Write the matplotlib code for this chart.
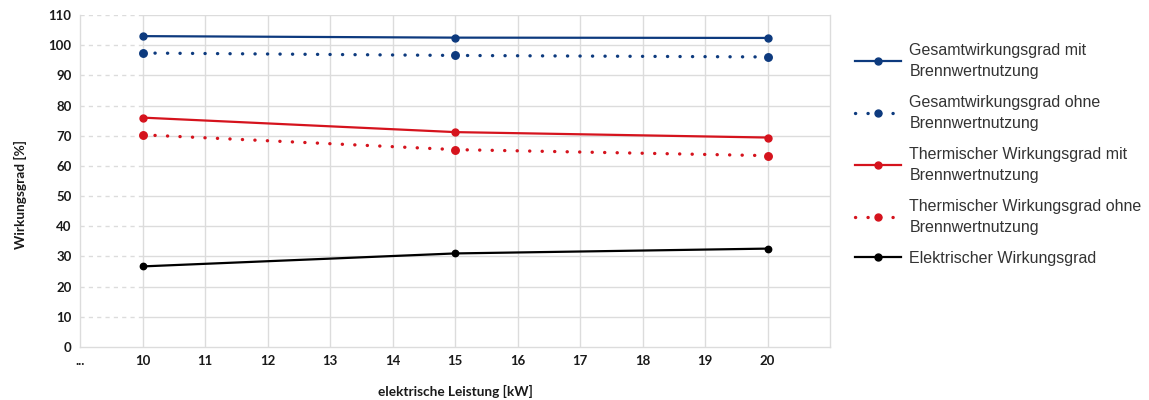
import matplotlib
matplotlib.use("Agg")
import matplotlib.pyplot as plt

# ---- data ----
x_kw = [10, 15, 20]
gesamt_mit = [103.0, 102.5, 102.4]
gesamt_ohne = [97.4, 96.6, 96.1]
therm_mit = [76.0, 71.2, 69.4]
therm_ohne = [70.3, 65.4, 63.4]
elektrisch = [26.7, 31.0, 32.6]

series_labels = [
    "Gesamtwirkungsgrad mit\nBrennwertnutzung",
    "Gesamtwirkungsgrad ohne\nBrennwertnutzung",
    "Thermischer Wirkungsgrad mit\nBrennwertnutzung",
    "Thermischer Wirkungsgrad ohne\nBrennwertnutzung",
    "Elektrischer Wirkungsgrad",
]
x_ticks = [9, 10, 11, 12, 13, 14, 15, 16, 17, 18, 19, 20]
x_ticklabels = ["...", "10", "11", "12", "13", "14", "15", "16", "17", "18", "19", "20"]
y_ticks = [0, 10, 20, 30, 40, 50, 60, 70, 80, 90, 100, 110]

BLUE = "#0d3a7e"
RED = "#d5131d"
BLACK = "#000000"
GRID = "#dcdcdc"
TXT = "#1a1a1a"

fig = plt.figure(figsize=(11.49, 4.0), dpi=100)
ax = fig.add_axes([80 / 1149, 1 - 347 / 400, 750 / 1149, 332 / 400])

ax.set_xlim(9, 21)
ax.set_ylim(0, 110)

# grid
for y in y_ticks[1:]:
    ax.plot([9, 10], [y, y], color=GRID, lw=1.0, ls=(0, (3, 3)), zorder=0)
    ax.plot([10, 21], [y, y], color=GRID, lw=1.0, zorder=0)
for xv in x_ticks[1:]:
    ax.plot([xv, xv], [0, 110], color=GRID, lw=1.0, zorder=0)

for s in ["left", "bottom", "right"]:
    ax.spines[s].set_color(GRID)
    ax.spines[s].set_linewidth(1.0)
ax.spines["top"].set_visible(False)

dot_ls = (0, (0.05, 3.7))

def solid(y, color, ms, label):
    return ax.plot(x_kw, y, color=color, lw=1.6, marker="o", ms=ms,
                   label=label, zorder=3)[0]

def dotted(y, color, ms, label):
    ln, = ax.plot(x_kw, y, color=color, lw=2.4, ls=dot_ls, marker="o", ms=ms,
                  label=label, zorder=3)
    ln.set_dash_capstyle("round")
    return ln

h1 = solid(gesamt_mit, BLUE, 5.0, series_labels[0])
h2 = dotted(gesamt_ohne, BLUE, 5.4, series_labels[1])
h3 = solid(therm_mit, RED, 5.0, series_labels[2])
h4 = dotted(therm_ohne, RED, 5.4, series_labels[3])
h5 = solid(elektrisch, BLACK, 4.6, series_labels[4])

tick_font = dict(family="Lato", weight="bold", size=9.5)
ax.set_xticks(x_ticks)
ax.set_xticklabels(x_ticklabels, **tick_font, color=TXT)
ax.set_yticks(y_ticks)
ax.set_yticklabels([str(v) for v in y_ticks], **tick_font, color=TXT)
ax.tick_params(axis="both", length=0)
ax.tick_params(axis="x", pad=6)
ax.tick_params(axis="y", pad=6)

ax.set_xlabel("elektrische Leistung [kW]", family="Lato", weight="bold",
              size=9.8, color=TXT, labelpad=13)
ax.set_ylabel("Wirkungsgrad [%]", family="Lato", weight="bold",
              size=9.8, color=TXT)
ax.yaxis.set_label_coords(-0.071, 0.458)

# legend
handles = [h1, h2, h3, h4, h5]
leg = fig.legend(handles, series_labels, loc="upper left",
                 bbox_to_anchor=(855 / 1149, 1 - 43 / 400),
                 frameon=False, numpoints=1, handlelength=2.9,
                 handletextpad=0.5, labelspacing=1.0, borderaxespad=0,
                 borderpad=0,
                 prop=dict(family="Liberation Sans", size=11.5))
for t in leg.get_texts():
    t.set_color("#333333")
    t.set_linespacing(1.5)
for lh in leg.get_lines():
    lh.set_markersize(5.0)

fig.savefig("out.png", dpi=100)
